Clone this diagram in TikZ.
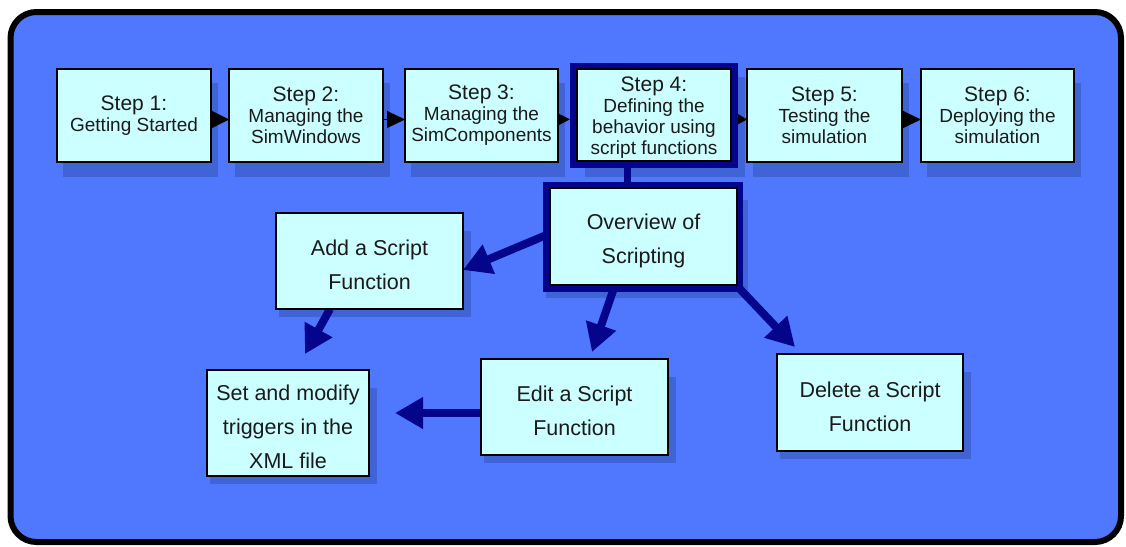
\documentclass[tikz,border=0pt]{standalone}
\usepackage{fontspec}
\setmainfont{Liberation Sans}
\usetikzlibrary{arrows.meta,calc}
\definecolor{bgblue}{HTML}{4F78FF}
\definecolor{shadeblue}{HTML}{4064D6}
\definecolor{boxfill}{HTML}{CCFFFF}
\definecolor{navyc}{HTML}{05058C}
\definecolor{txt}{HTML}{1A1A1A}
\pgfdeclarelayer{bg}
\pgfdeclarelayer{shade}
\pgfdeclarelayer{conn}
\pgfsetlayers{bg,shade,conn,main}
\newcommand{\lowstrut}{\rule{0pt}{24pt}}
\begin{document}
\begin{tikzpicture}[x=1pt,y=-1pt,
  box/.style={draw=black, line width=1.8pt, fill=boxfill, inner sep=0pt, outer sep=0pt, align=center, text=txt},
  stepbox/.style={box, minimum width=154pt, minimum height=93pt, font=\fontsize{19}{21}\selectfont},
  taskbox/.style={box, font=\fontsize{21.5}{34}\selectfont},
  navyline/.style={draw=navyc, line width=8pt},
  navyarrow/.style={navyline, -{Triangle[length=28pt,width=30pt]}},
  steparrow/.style={draw=black, line width=1pt}
]
\useasboundingbox (0,0) rectangle (1126,546);
\begin{pgfonlayer}{bg}
\draw[line width=6pt, fill=bgblue, rounded corners=26pt] (10.5,12) rectangle (1121,542);
\end{pgfonlayer}

% step boxes
\node[stepbox] (s1) at (134,115.5) {{\fontsize{21}{21}\selectfont Step 1:}\\Getting Started};
\node[stepbox] (s2) at (306,115.5) {{\fontsize{21}{21}\selectfont Step 2:}\\Managing the\\SimWindows};
\node[stepbox, minimum width=153pt] (s3) at (481.5,115.5) {{\fontsize{21}{21}\selectfont Step 3:}\\Managing the\\SimComponents};
\node[draw=navyc, line width=7pt, inner sep=0pt, outer sep=3.5pt, minimum width=161pt, minimum height=98.5pt] (s4o) at (654,115.25) {};
\node[stepbox, minimum height=92pt] (s4) at (654,115) {{\fontsize{21}{21}\selectfont \rule{0pt}{19pt}Step 4:}\\Defining the\\behavior using\\script functions};
\node[stepbox, minimum width=155pt] (s5) at (824.5,115.5) {{\fontsize{21}{21}\selectfont Step 5:}\\Testing the\\simulation};
\node[stepbox, minimum width=153pt] (s6) at (997.5,115.5) {{\fontsize{21}{21}\selectfont Step 6:}\\Deploying the\\simulation};

% lower boxes
\node[fill=navyc, inner sep=0pt, outer sep=0pt, minimum width=200pt, minimum height=110pt] (ovo) at (643,237) {};
\node[taskbox, minimum width=187pt, minimum height=97pt] (ov) at (643.5,236.5) {\lowstrut Overview of\\Scripting};
\node[taskbox, minimum width=187pt, minimum height=96pt] (add) at (369.5,261) {\lowstrut Add a Script\\Function};
\node[taskbox, minimum width=162pt, minimum height=106pt] (set) at (288,423) {\lowstrut Set and modify\\triggers in the\\XML file};
\node[taskbox, minimum width=187pt, minimum height=96pt] (edit) at (574.5,407) {\lowstrut Edit a Script\\Function};
\node[taskbox, minimum width=186pt, minimum height=97pt] (del) at (870,402.5) {\lowstrut Delete a Script\\Function};

% shadows
\begin{pgfonlayer}{shade}
\foreach \n in {s1,s2,s3,s5,s6}
  \fill[shadeblue] ($(\n.north west)+(6,14)$) rectangle ($(\n.south east)+(7,15)$);
\fill[shadeblue] ($(s4o.north west)+(15,14)$) rectangle ($(s4o.south east)+(7,9)$);
\foreach \n in {add,set,edit,del}
  \fill[shadeblue] ($(\n.north west)+(3,18)$) rectangle ($(\n.south east)+(8,8)$);
\fill[shadeblue] ($(ovo.north west)+(3,18)$) rectangle ($(ovo.south east)+(5,6)$);
\end{pgfonlayer}

% connectors
\begin{pgfonlayer}{conn}
\draw[steparrow, -{Triangle[length=17pt,width=17pt]}] ([yshift=-4pt]s1.east) -- ([yshift=-4pt]s2.west);
\draw[steparrow, -{Triangle[length=18pt,width=17pt]}] ([yshift=-4pt]s2.east) -- ([yshift=-4pt]s3.west);
\draw[steparrow, -{Triangle[length=12pt,width=12pt]}] ([yshift=-4pt]s3.east) -- ([yshift=-4pt]s4o.west);
\draw[steparrow, -{Triangle[length=9pt,width=10pt]}] ([yshift=-4pt]s4o.east) -- ([yshift=-4pt]s5.west);
\draw[steparrow, -{Triangle[length=18pt,width=17pt]}] ([yshift=-4pt]s5.east) -- ([yshift=-4pt]s6.west);
\draw[draw=navyc, line width=7pt] ([xshift=-27pt]s4o.south) -- ([xshift=-16pt]ovo.north);
\draw[navyarrow] ([yshift=3pt]ov.west) -- ([yshift=-9pt]add.east);
\draw[navyarrow] ([xshift=-39.5pt]add.south) -- ([xshift=17pt,yshift=16pt]set.north);
\draw[navyarrow] ([xshift=-28.5pt]ov.south) -- ([xshift=17.5pt,yshift=7pt]edit.north);
\draw[navyarrow] ([yshift=-6pt]edit.west) -- ([xshift=26pt,yshift=10pt]set.east);
\draw[navyarrow] ([xshift=-4pt,yshift=4pt]ovo.south east) -- ([xshift=-75pt,yshift=7pt]del.north);
\end{pgfonlayer}
\end{tikzpicture}
\end{document}
